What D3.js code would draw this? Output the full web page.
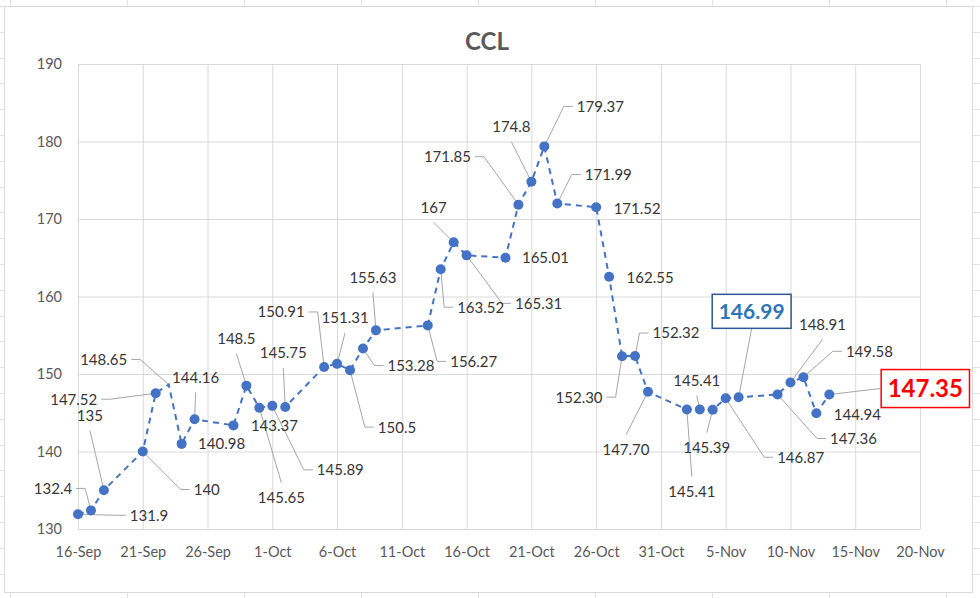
<!DOCTYPE html>
<html>
<head>
<meta charset="utf-8">
<script src="https://cdn.jsdelivr.net/npm/d3@7"></script>
<style>
  body { margin: 0; background: #fff; }
  svg { display: block; font-family: Lato, "Open Sans", sans-serif; }
</style>
</head>
<body>
<svg width="980" height="598"></svg>
<script>
// CCL quotes, one per business day
const dates = [
  '2020-09-16', '2020-09-17', '2020-09-18', '2020-09-21', '2020-09-22', '2020-09-23',
  '2020-09-24', '2020-09-25', '2020-09-28', '2020-09-29', '2020-09-30', '2020-10-01',
  '2020-10-02', '2020-10-05', '2020-10-06', '2020-10-07', '2020-10-08', '2020-10-09',
  '2020-10-13', '2020-10-14', '2020-10-15', '2020-10-16', '2020-10-19', '2020-10-20',
  '2020-10-21', '2020-10-22', '2020-10-23', '2020-10-26', '2020-10-27', '2020-10-28',
  '2020-10-29', '2020-10-30', '2020-11-02', '2020-11-03', '2020-11-04', '2020-11-05',
  '2020-11-06', '2020-11-09', '2020-11-10', '2020-11-11', '2020-11-12', '2020-11-13'
];
const values = [
  131.9, 132.4, 135, 140, 147.52, 148.65,
  140.98, 144.16, 143.37, 148.5, 145.65, 145.89,
  145.75, 150.91, 151.31, 150.5, 153.28, 155.63,
  156.27, 163.52, 167, 165.31, 165.01, 171.85,
  174.8, 179.37, 171.99, 171.52, 162.55, 152.30,
  152.32, 147.70, 145.41, 145.41, 145.39, 146.87,
  146.99, 147.36, 148.91, 149.58, 144.94, 147.35
];
const valueLabels = [
  '131.9', '132.4', '135', '140', '147.52', '148.65',
  '140.98', '144.16', '143.37', '148.5', '145.65', '145.89',
  '145.75', '150.91', '151.31', '150.5', '153.28', '155.63',
  '156.27', '163.52', '167', '165.31', '165.01', '171.85',
  '174.8', '179.37', '171.99', '171.52', '162.55', '152.30',
  '152.32', '147.70', '145.41', '145.41', '145.39', '146.87',
  '146.99', '147.36', '148.91', '149.58', '144.94', '147.35'
];
const xTickLabels = ['16-Sep', '21-Sep', '26-Sep', '1-Oct', '6-Oct', '11-Oct', '16-Oct',
  '21-Oct', '26-Oct', '31-Oct', '5-Nov', '10-Nov', '15-Nov', '20-Nov'];
const yTicks = [130, 140, 150, 160, 170, 180, 190];

// where each data label sits relative to its point (px) and where its leader line attaches
const labelLayout = [
  [71, 1, 'l'], [-38, -22, 'r'], [-14, -75, 'b'], [64, 38, 'l'], [-82, 6, 'r'], [-65, -25, 'r'],
  [40, 0, ''], [1, -42, 'b'], [41, 0, ''], [-10, -47, 'b'], [22, 90, 't'], [68, 64, 'l'],
  [-2, -54, 'b'], [-43, -55, 'r'], [8, -46, 'b'], [47, 57, 'l'], [48, 17, 'l'], [-3, -53, 'b'],
  [46, 36, 'l'], [40, 38, 'l'], [-20, -35, 'b'], [72, 48, 'l'], [40, 0, ''], [-71, -48, 'r'],
  [-20, -55, 'b'], [56, -40, 'l'], [51, -29, 'l'], [41, 1, ''], [41, 1, ''], [-43, 41, 'r'],
  [41, -23, 'l'], [-22, 58, 't'], [5, 82, 't'], [-3, -29, 'b'], [-6, 38, 't'], [75, 59, 'l'],
  [13, -86, 'b'], [76, 44, 'l'], [32, -58, 'b'], [66, -26, 'l'], [41, 1, ''], [96, -6, 'l']
];
const boxedLabels = {
  36: { size: 21, color: '#2E75B6', stroke: '#2F5597', h: 34 },
  41: { size: 24, color: '#FF0000', stroke: '#FF0000', h: 38 }
};
const noMarker = [5];

const svg = d3.select('svg');
const svgWidth = +svg.attr('width');
const svgHeight = +svg.attr('height');

const parseDate = d3.timeParse('%Y-%m-%d');
const parseTick = d3.timeParse('%d-%b-%Y');
const data = dates.map((d, i) => ({ date: parseDate(d), value: values[i], label: valueLabels[i] }));
const tickDates = xTickLabels.map(t => parseTick(t + '-2020'));

const margin = { top: 64, left: 78, right: 60, bottom: 69 };
const innerWidth = svgWidth - margin.left - margin.right;
const innerHeight = svgHeight - margin.top - margin.bottom;

// spreadsheet cells peeking around the chart
const sheet = svg.append('g').attr('stroke', '#e2e2e2').attr('stroke-width', 1);
d3.range(10, svgWidth, 117).forEach(x =>
  sheet.append('line').attr('x1', x + 0.5).attr('x2', x + 0.5).attr('y1', 0).attr('y2', svgHeight));
d3.range(6, svgHeight, 25.8).forEach(y =>
  sheet.append('line').attr('y1', Math.round(y) + 0.5).attr('y2', Math.round(y) + 0.5).attr('x1', 0).attr('x2', svgWidth));

svg.append('rect')
  .attr('x', 4.5).attr('y', 6.5)
  .attr('width', 968).attr('height', 586)
  .attr('fill', '#fff')
  .attr('stroke', '#d9d9d9');

svg.append('text')
  .attr('x', 487).attr('y', 50)
  .attr('text-anchor', 'middle')
  .attr('font-size', 24)
  .attr('font-weight', 'bold')
  .attr('fill', '#595959')
  .text('CCL');

const xScale = d3.scaleTime()
  .domain([tickDates[0], tickDates[tickDates.length - 1]])
  .range([0, innerWidth]);
const yScale = d3.scaleLinear()
  .domain([130, 190])
  .range([innerHeight, 0]);

const g = svg.append('g')
  .attr('transform', `translate(${margin.left}, ${margin.top})`);

const yAxisGroup = g.append('g')
  .call(d3.axisLeft(yScale).tickValues(yTicks).tickSize(-innerWidth).tickPadding(16).tickFormat(d3.format('d')));
const xAxisGroup = g.append('g')
  .attr('transform', `translate(0, ${innerHeight})`)
  .call(d3.axisBottom(xScale).tickValues(tickDates).tickSize(-innerHeight).tickPadding(18)
    .tickFormat((d, i) => xTickLabels[i]));
[yAxisGroup, xAxisGroup].forEach(ax => {
  ax.select('.domain').remove();
  ax.selectAll('.tick line').attr('stroke', '#d9d9d9');
  ax.selectAll('.tick text').attr('fill', '#595959').attr('font-size', 14.5)
    .attr('font-family', 'Lato, "Open Sans", sans-serif');
});

const px = d => xScale(d.date);
const py = d => yScale(d.value);

const leaderGroup = g.append('g');

g.append('path')
  .datum(data)
  .attr('fill', 'none')
  .attr('stroke', '#4472C4')
  .attr('stroke-width', 2)
  .attr('stroke-dasharray', '6,5')
  .attr('d', d3.line().x(px).y(py));

g.selectAll('circle')
  .data(data.filter((d, i) => !noMarker.includes(i)))
  .enter()
  .append('circle')
  .attr('cx', px)
  .attr('cy', py)
  .attr('r', 5)
  .attr('fill', '#4472C4');

const labelGroup = g.append('g');
data.forEach((d, i) => {
  const [dx, dy, anchor] = labelLayout[i];
  const cx = px(d) + dx;
  const cy = py(d) + dy;
  const boxed = boxedLabels[i];
  let halfW, halfH, gap, elbow;
  if (boxed) {
    const box = labelGroup.append('rect');
    const t = labelGroup.append('text')
      .attr('x', cx).attr('y', cy)
      .attr('dy', '0.36em')
      .attr('text-anchor', 'middle')
      .attr('font-size', boxed.size)
      .attr('font-weight', 'bold')
      .attr('fill', boxed.color)
      .text(d.label);
    const w = t.node().getComputedTextLength() + 13;
    box.attr('x', cx - w / 2).attr('y', cy - boxed.h / 2)
      .attr('width', w).attr('height', boxed.h)
      .attr('fill', '#fff')
      .attr('stroke', boxed.stroke)
      .attr('stroke-width', 1.5);
    halfW = w / 2; halfH = boxed.h / 2; gap = 1; elbow = 0;
  } else {
    const t = labelGroup.append('text')
      .attr('x', cx).attr('y', cy)
      .attr('dy', '0.36em')
      .attr('text-anchor', 'middle')
      .attr('font-size', 15)
      .attr('fill', '#363636')
      .text(d.label);
    halfW = t.node().getComputedTextLength() / 2;
    halfH = 15; gap = 4; elbow = 9;
  }
  if (!anchor) return;
  let pts;
  if (anchor === 'l') {
    const ax = cx - halfW - gap;
    pts = [[ax, cy], [ax - elbow, cy], [px(d), py(d)]];
  } else if (anchor === 'r') {
    const ax = cx + halfW + gap;
    pts = [[ax, cy], [ax + elbow, cy], [px(d), py(d)]];
  } else if (anchor === 'b') {
    pts = [[cx, cy + halfH], [px(d), py(d)]];
  } else {
    pts = [[cx, cy - halfH], [px(d), py(d)]];
  }
  leaderGroup.append('path')
    .attr('fill', 'none')
    .attr('stroke', '#a6a6a6')
    .attr('stroke-width', 1)
    .attr('d', d3.line()(pts));
});
</script>
</body>
</html>
